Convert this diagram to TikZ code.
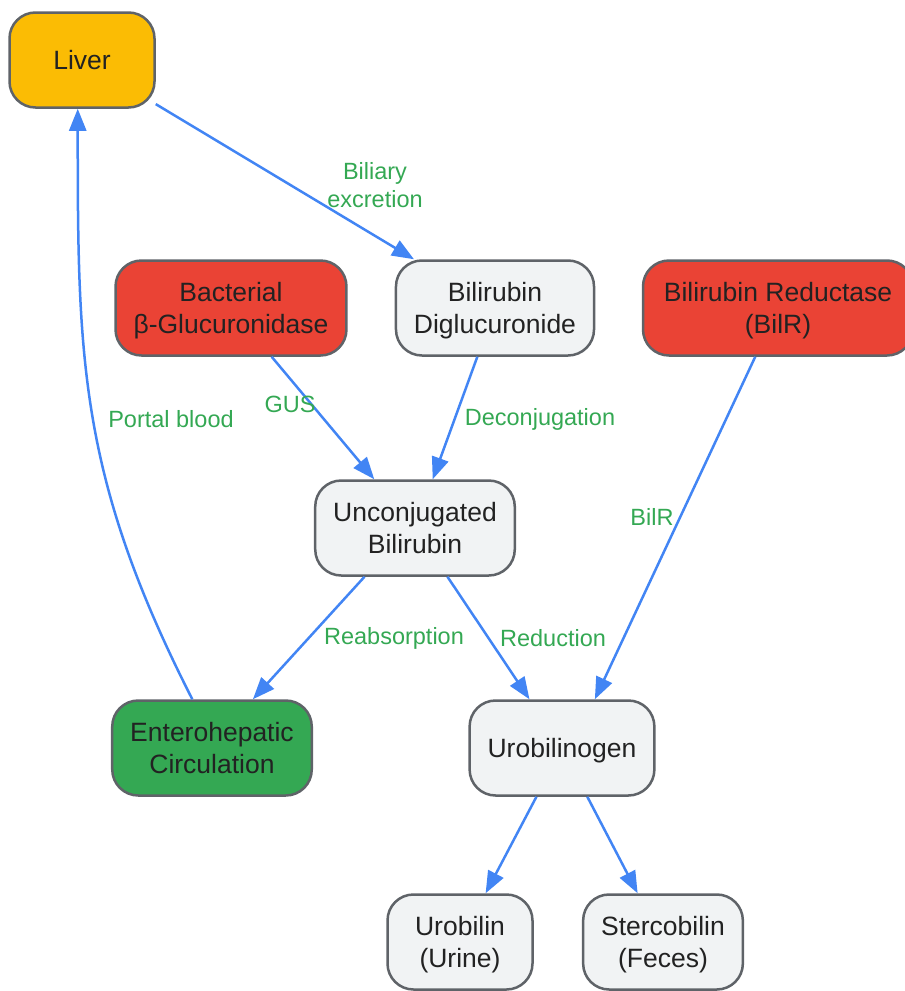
\documentclass[tikz,border=0pt]{standalone}
\usepackage{fontspec}
\setmainfont{Liberation Sans}
\usetikzlibrary{arrows.meta}
\definecolor{liverfill}{HTML}{FBBC04}
\definecolor{enzred}{HTML}{EA4335}
\definecolor{plainfill}{HTML}{F1F3F4}
\definecolor{entgreen}{HTML}{34A853}
\definecolor{lblgreen}{HTML}{34A853}
\definecolor{flowblue}{HTML}{4285F4}
\definecolor{boxline}{HTML}{5F6368}
\definecolor{boxtext}{HTML}{222222}
\newcommand{\lnstrut}{\rule[-6.8pt]{0pt}{32pt}}

\begin{document}
\begin{tikzpicture}[x=1pt,y=1pt,
	box/.style={rectangle, rounded corners=26pt, draw=boxline, line width=2.5pt, text=boxtext, align=center, minimum width=145pt, minimum height=95pt, inner xsep=18pt, font=\fontsize{26.5}{32}\selectfont, execute at begin node=\lnstrut, execute at end node=\lnstrut},
	lbl/.style={text=lblgreen, align=center, font=\fontsize{23.5}{27.5}\selectfont},
	flow/.style={draw=flowblue, line width=2.5pt},
	every edge/.style={flow},
	>={Triangle[length=22pt,width=17pt]}]
\useasboundingbox (0,0) rectangle (905,-991);
\node (liver) at (82,-60) [box, fill=liverfill] {Liver};
	\node (gus) at (231,-308) [box, fill=enzred] {\lnstrut Bacterial\\β-Glucuronidase};
	\node (digluc) at (495,-308) [box, fill=plainfill] {\lnstrut Bilirubin\\Diglucuronide}	edge[<-] (liver);
	\node (bilr) at (778,-308) [box, fill=enzred, minimum width=270pt] {\lnstrut Bilirubin Reductase\\(BilR)};
		\node (unconj) at (415,-528) [box, fill=plainfill] {\lnstrut Unconjugated\\Bilirubin}	edge[<-] (gus) edge[<-] (digluc);
			\node (entero) at (212,-748) [box, fill=entgreen] {\lnstrut Enterohepatic\\Circulation};
			\node (urobgen) at (562,-748) [box, fill=plainfill] {Urobilinogen}	edge[<-] (unconj);
				\node (urobilin) at (460,-942) [box, fill=plainfill] {\lnstrut Urobilin\\(Urine)}	edge[<-] (urobgen);
				\node (sterco) at (663,-942) [box, fill=plainfill] {\lnstrut Stercobilin\\(Feces)}	edge[<-] (urobgen);
\draw[flow, ->] (unconj.224) -- (entero.50);
\draw[flow, ->] (bilr) -- (urobgen.56);
\draw[flow, ->] (entero.112) .. controls +(-113.5,223) and +(0,-250) .. (liver.265);
% edge labels
\node (l1) at (375,-185) [lbl] {Biliary\\excretion};
\node (l2) at (290,-404) [lbl] {GUS};
\node (l3) at (540,-419) [lbl] {Deconjugation};
\node (l4) at (652,-517) [lbl] {BilR};
\node (l5) at (394,-638) [lbl] {Reabsorption};
\node (l6) at (553,-638) [lbl] {Reduction};
\node (l7) at (171,-419) [lbl] {Portal blood};
\end{tikzpicture}
\end{document}
